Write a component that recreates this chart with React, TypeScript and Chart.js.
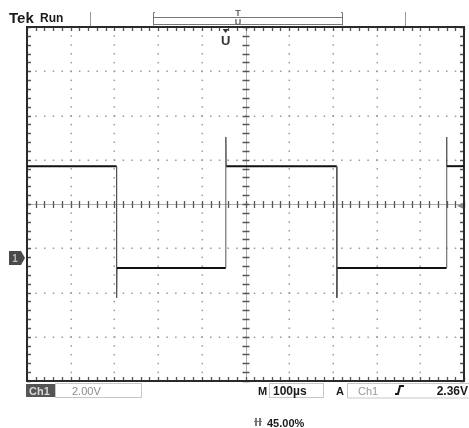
import React, { useEffect, useRef } from "react";
import { Chart, registerables } from "chart.js";

Chart.register(...registerables);

// Time in microseconds relative to the trigger (100 µs/div, trigger at 45% of screen)
const timeUs = [-450, -245, -245, -244, 5, 5, 6, 259, 259, 260, 510, 510, 511, 550];
// Channel 1 voltage (2.00 V/div)
const volts = [4.15, 4.15, -1.8, -0.45, -0.45, 5.47, 4.15, 4.15, -1.8, -0.45, -0.45, 5.47, 4.15, 4.15];

const X_MIN = -450;
const X_MAX = 550;
const TIME_PER_DIV = 100;
const Y_MIN = -5.56;
const Y_MAX = 10.44;
const VOLTS_PER_DIV = 2;
const TRIGGER_LEVEL = 2.36;
const MINOR_PER_DIV = 5;

const scopePlugin = {
  id: "scope",
  beforeDatasetsDraw(chart: any) {
    const { ctx, chartArea: a, scales } = chart;
    const xs = scales.x;
    const ys = scales.y;
    const nx = Math.round((X_MAX - X_MIN) / TIME_PER_DIV);
    const ny = Math.round((Y_MAX - Y_MIN) / VOLTS_PER_DIV);
    const cx = xs.getPixelForValue((X_MIN + X_MAX) / 2);
    const cy = ys.getPixelForValue((Y_MIN + Y_MAX) / 2);
    ctx.save();
    // dotted graticule
    ctx.fillStyle = "#9a9a9a";
    for (let i = 1; i < nx; i++) {
      if (i * 2 === nx) continue;
      const px = Math.round(xs.getPixelForValue(X_MIN + i * TIME_PER_DIV));
      for (let j = 0; j <= ny * MINOR_PER_DIV; j++) {
        const py = ys.getPixelForValue(Y_MIN + (j * VOLTS_PER_DIV) / MINOR_PER_DIV);
        ctx.fillRect(px - 0.5, py - 0.5, 1.5, 1.5);
      }
    }
    for (let j = 1; j < ny; j++) {
      if (j * 2 === ny) continue;
      const py = Math.round(ys.getPixelForValue(Y_MIN + j * VOLTS_PER_DIV));
      for (let i = 0; i <= nx * MINOR_PER_DIV; i++) {
        const px = xs.getPixelForValue(X_MIN + (i * TIME_PER_DIV) / MINOR_PER_DIV);
        ctx.fillRect(px - 0.5, py - 0.5, 1.5, 1.5);
      }
    }
    // center crosshair
    ctx.strokeStyle = "#b0b0b0";
    ctx.lineWidth = 1;
    ctx.beginPath();
    ctx.moveTo(Math.round(cx) + 0.5, a.top);
    ctx.lineTo(Math.round(cx) + 0.5, a.bottom);
    ctx.moveTo(a.left, Math.round(cy) + 0.5);
    ctx.lineTo(a.right, Math.round(cy) + 0.5);
    ctx.stroke();
    ctx.strokeStyle = "#555";
    ctx.lineWidth = 1.3;
    ctx.beginPath();
    for (let j = 0; j <= ny * MINOR_PER_DIV; j++) {
      const py = Math.round(ys.getPixelForValue(Y_MIN + (j * VOLTS_PER_DIV) / MINOR_PER_DIV)) + 0.5;
      ctx.moveTo(cx - 3, py);
      ctx.lineTo(cx + 4, py);
      ctx.moveTo(a.left, py);
      ctx.lineTo(a.left + 4, py);
      ctx.moveTo(a.right, py);
      ctx.lineTo(a.right - 4, py);
    }
    for (let i = 0; i <= nx * MINOR_PER_DIV; i++) {
      const px = Math.round(xs.getPixelForValue(X_MIN + (i * TIME_PER_DIV) / MINOR_PER_DIV)) + 0.5;
      ctx.moveTo(px, cy - 3);
      ctx.lineTo(px, cy + 4);
      ctx.moveTo(px, a.top);
      ctx.lineTo(px, a.top + 4);
      ctx.moveTo(px, a.bottom);
      ctx.lineTo(px, a.bottom - 4);
    }
    ctx.stroke();
    // frame
    ctx.strokeStyle = "#2a2a2a";
    ctx.lineWidth = 2;
    ctx.strokeRect(a.left, a.top, a.right - a.left, a.bottom - a.top);
    ctx.restore();
  },
  afterDraw(chart: any) {
    const { ctx, chartArea: a, scales } = chart;
    const xs = scales.x;
    const ys = scales.y;
    const font = (w: string, s: number) => `${w} ${s}px "Liberation Sans", Arial, sans-serif`;
    ctx.save();
    ctx.textBaseline = "alphabetic";
    // Header
    ctx.fillStyle = "#1a1a1a";
    ctx.font = font("bold", 15);
    ctx.fillText("Tek", 9, 23);
    ctx.font = font("bold", 12);
    ctx.fillText("Run", 40, 22);
    // record bar
    ctx.strokeStyle = "#999";
    ctx.lineWidth = 1;
    ctx.beginPath();
    ctx.moveTo(90.5, 12);
    ctx.lineTo(90.5, 26);
    ctx.moveTo(405.5, 12);
    ctx.lineTo(405.5, 26);
    ctx.stroke();
    ctx.strokeStyle = "#777";
    ctx.beginPath();
    ctx.moveTo(155, 12.5);
    ctx.lineTo(153.5, 12.5);
    ctx.lineTo(153.5, 25.5);
    ctx.moveTo(153.5, 17.5);
    ctx.lineTo(342.5, 17.5);
    ctx.moveTo(153.5, 24.5);
    ctx.lineTo(342.5, 24.5);
    ctx.moveTo(341, 12.5);
    ctx.lineTo(342.5, 12.5);
    ctx.lineTo(342.5, 25.5);
    ctx.stroke();
    ctx.fillStyle = "#666";
    ctx.font = font("bold", 9);
    ctx.textAlign = "center";
    ctx.fillText("T", 238, 16);
    ctx.fillText("U", 238, 25);
    // trigger position marker
    const tx = xs.getPixelForValue(0) + 2;
    ctx.fillStyle = "#333";
    ctx.beginPath();
    ctx.moveTo(tx - 3, a.top + 2);
    ctx.lineTo(tx + 3, a.top + 2);
    ctx.lineTo(tx, a.top + 6);
    ctx.closePath();
    ctx.fill();
    ctx.font = font("bold", 13);
    ctx.fillText("U", tx, a.top + 18);
    // ground marker
    const gy = ys.getPixelForValue(0);
    ctx.fillStyle = "#4a4a4a";
    ctx.beginPath();
    ctx.moveTo(9, gy - 7);
    ctx.lineTo(21, gy - 7);
    ctx.lineTo(25, gy);
    ctx.lineTo(21, gy + 7);
    ctx.lineTo(9, gy + 7);
    ctx.closePath();
    ctx.fill();
    ctx.fillStyle = "#bbb";
    ctx.font = font("bold", 10);
    ctx.fillText("1", 15, gy + 4);
    // trigger level marker
    const ty = ys.getPixelForValue(TRIGGER_LEVEL);
    ctx.fillStyle = "#888";
    ctx.beginPath();
    ctx.moveTo(a.right - 7, ty);
    ctx.lineTo(a.right - 1, ty - 3);
    ctx.lineTo(a.right - 1, ty + 3);
    ctx.closePath();
    ctx.fill();
    // bottom readout
    const by = a.bottom + 2;
    ctx.textAlign = "left";
    ctx.fillStyle = "#555";
    ctx.fillRect(26, by + 1, 29, 13);
    ctx.fillStyle = "#d8d8d8";
    ctx.font = font("bold", 11);
    ctx.fillText("Ch1", 29, by + 12);
    ctx.strokeStyle = "#c8c8c8";
    ctx.lineWidth = 1;
    ctx.strokeRect(55.5, by + 0.5, 86, 14);
    ctx.fillStyle = "#8a8a8a";
    ctx.font = font("normal", 11);
    ctx.fillText("2.00V", 72, by + 12);
    ctx.fillStyle = "#1a1a1a";
    ctx.font = font("bold", 11);
    ctx.fillText("M", 258, by + 12);
    ctx.strokeRect(269.5, by + 0.5, 54, 14);
    ctx.font = font("bold", 12);
    ctx.fillText("100µs", 273, by + 12);
    ctx.font = font("bold", 11);
    ctx.fillText("A", 336, by + 12);
    ctx.beginPath();
    ctx.moveTo(347.5, by);
    ctx.lineTo(347.5, by + 15);
    ctx.lineTo(469, by + 15);
    ctx.moveTo(347.5, by + 0.5);
    ctx.lineTo(469, by + 0.5);
    ctx.stroke();
    ctx.fillStyle = "#999";
    ctx.font = font("normal", 11);
    ctx.fillText("Ch1", 358, by + 12);
    ctx.strokeStyle = "#1a1a1a";
    ctx.lineWidth = 2;
    ctx.beginPath();
    ctx.moveTo(395, by + 11);
    ctx.lineTo(398, by + 11);
    ctx.lineTo(400, by + 3);
    ctx.lineTo(404, by + 3);
    ctx.stroke();
    ctx.fillStyle = "#1a1a1a";
    ctx.font = font("bold", 12);
    ctx.textAlign = "right";
    ctx.fillText("2.36V", 468, by + 12);
    // horizontal position
    ctx.textAlign = "left";
    ctx.fillStyle = "#777";
    ctx.fillRect(255, 418, 2, 8);
    ctx.fillRect(259, 418, 2, 8);
    ctx.fillRect(254, 421, 8, 1);
    ctx.fillStyle = "#1a1a1a";
    ctx.font = font("bold", 11);
    ctx.fillText("45.00%", 267, 427);
    ctx.restore();
  },
};

export default function App() {
  const ref = useRef<HTMLCanvasElement | null>(null);
  useEffect(() => {
    if (!ref.current) return;
    const points = timeUs.map((t, i) => ({ x: t, y: volts[i] }));
    const chart = new Chart(ref.current, {
      type: "line",
      data: {
        datasets: [
          {
            label: "Ch1",
            data: points,
            borderColor: "#111",
            borderWidth: 2,
            pointRadius: 0,
            tension: 0,
            segment: {
              borderWidth: (c: any) => (Math.abs(c.p1.x - c.p0.x) < 3 ? 1 : 2),
              borderColor: (c: any) => (Math.abs(c.p1.x - c.p0.x) < 3 ? "#555" : "#111"),
            },
          },
        ],
      },
      options: {
        animation: false,
        responsive: false,
        devicePixelRatio: 1,
        layout: { padding: { left: 27, top: 27, right: 5, bottom: 47 } },
        plugins: { legend: { display: false }, tooltip: { enabled: false } },
        scales: {
          x: { type: "linear", min: X_MIN, max: X_MAX, display: false },
          y: { type: "linear", min: Y_MIN, max: Y_MAX, display: false },
        },
      },
      plugins: [scopePlugin],
    });
    return () => chart.destroy();
  }, []);
  return (
    <div style={{ position: "fixed", left: 0, top: 0, width: 469, height: 428, background: "#fff" }}>
      <canvas ref={ref} width={469} height={428} style={{ width: 469, height: 428 }} />
    </div>
  );
}
